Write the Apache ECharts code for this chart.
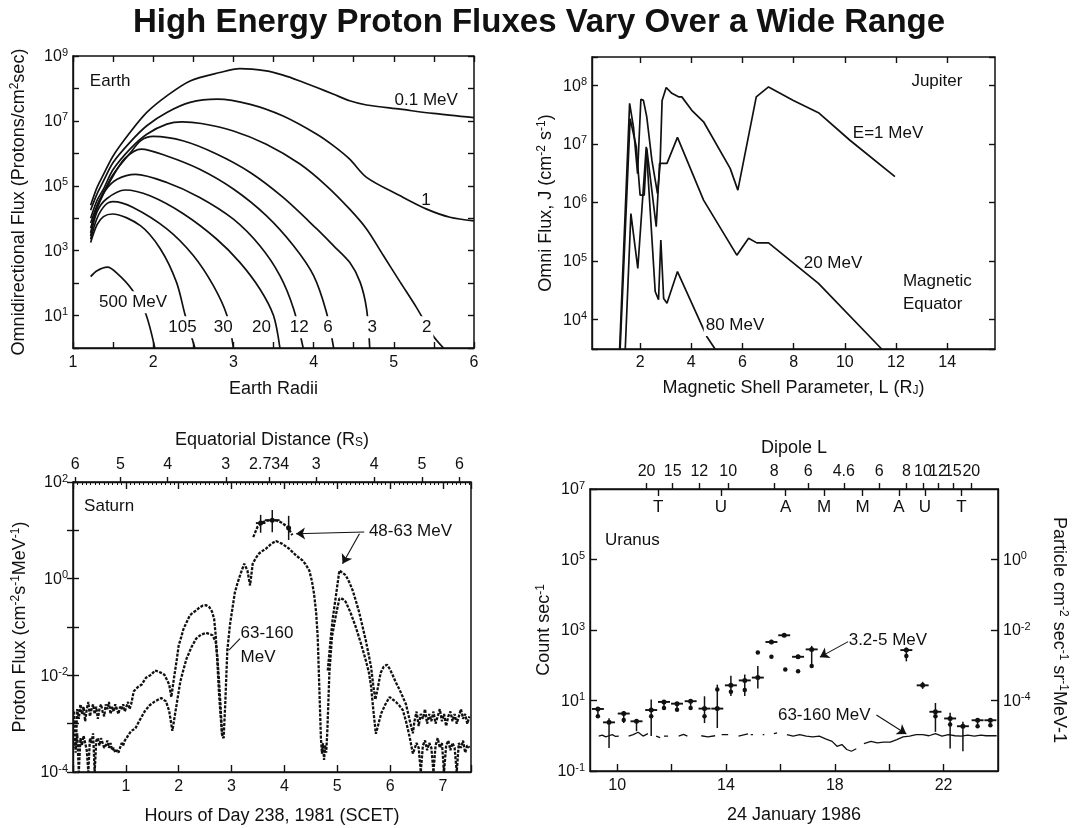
<!DOCTYPE html>
<html>
<head>
<meta charset="utf-8">
<script src="https://cdn.jsdelivr.net/npm/echarts@6/dist/echarts.min.js"></script>
<style>
  html, body { margin: 0; padding: 0; background: #fff; }
  #chart { width: 1078px; height: 828px; }
</style>
</head>
<body>
<div id="chart"></div>
<script>
// ---------------------------------------------------------------
// Earth radiation belt protons: [L (Earth radii), log10 flux]
// ---------------------------------------------------------------
const earth01MeV = [[1.22,4.4],[1.30,4.95],[1.38,5.35],[1.50,5.92],[1.71,6.64],[1.92,7.26],[2.17,7.77],[2.46,8.23],[2.83,8.49],[3.08,8.61],[3.41,8.54],[3.62,8.41],[3.83,8.23],[4.04,8.03],[4.25,7.82],[4.45,7.62],[4.66,7.49],[5.08,7.36],[5.49,7.23],[6.0,7.10]];
const earth1MeV = [[1.22,4.25],[1.30,4.75],[1.38,5.15],[1.50,5.72],[1.71,6.34],[1.92,6.85],[2.17,7.26],[2.46,7.57],[2.80,7.67],[3.21,7.51],[3.62,7.15],[4.04,6.59],[4.25,6.23],[4.45,5.82],[4.66,5.26],[5.08,4.69],[5.41,4.28],[5.70,4.03],[6.0,3.92]];
const earth2MeV = [[1.22,4.0],[1.30,4.55],[1.38,4.9],[1.50,5.5],[1.71,6.13],[1.92,6.59],[2.17,6.90],[2.36,6.97],[2.60,6.92],[3.0,6.69],[3.41,6.28],[3.83,5.67],[4.16,5.0],[4.45,4.28],[4.66,3.67],[4.87,2.85],[5.08,2.03],[5.28,1.26],[5.49,0.38],[5.62,0]];
const earth3MeV = [[1.22,3.85],[1.30,4.4],[1.38,4.8],[1.50,5.35],[1.71,6.0],[1.85,6.4],[2.0,6.52],[2.38,6.38],[2.79,5.98],[3.21,5.41],[3.62,4.64],[4.04,3.67],[4.25,3.15],[4.45,2.64],[4.58,2.03],[4.66,1.21],[4.70,0]];
const earth6MeV = [[1.22,3.7],[1.30,4.3],[1.38,4.75],[1.50,5.3],[1.65,5.85],[1.85,6.13],[2.17,5.92],[2.58,5.51],[3.0,4.90],[3.41,4.08],[3.75,3.15],[4.0,2.23],[4.16,1.10],[4.25,0]];
const earth12MeV = [[1.22,3.55],[1.30,4.35],[1.40,4.85],[1.55,5.2],[1.78,5.35],[2.17,5.10],[2.58,4.64],[3.0,3.97],[3.33,3.15],[3.58,2.23],[3.75,1.21],[3.87,0]];
const earth20MeV = [[1.22,3.45],[1.30,4.2],[1.42,4.6],[1.65,4.87],[1.96,4.69],[2.38,4.13],[2.79,3.36],[3.08,2.64],[3.33,1.82],[3.50,1.0],[3.58,0]];
const earth30MeV = [[1.22,3.35],[1.30,4.0],[1.40,4.4],[1.50,4.51],[1.75,4.33],[2.17,3.67],[2.50,2.85],[2.75,1.92],[2.92,1.0],[3.0,0]];
const earth105MeV = [[1.22,3.25],[1.30,3.8],[1.38,4.05],[1.49,4.13],[1.84,3.77],[2.09,3.05],[2.29,2.03],[2.40,1.0],[2.52,0]];
const earth500MeV = [[1.22,2.2],[1.30,2.38],[1.43,2.49],[1.55,2.3],[1.73,1.82],[1.90,1.10],[2.02,0]];

// ---------------------------------------------------------------
// Jupiter, magnetic equator: [L (R_J), log10 omni flux]
// ---------------------------------------------------------------
const jup1MeV = [[1.20,3.5],[1.59,7.69],[1.74,7.29],[1.90,6.49],[2.03,7.76],[2.13,7.74],[2.26,7.46],[2.46,6.72],[2.68,6.15],[2.78,6.64],[2.86,7.74],[3.02,7.96],[3.24,7.86],[3.50,7.80],[3.63,7.80],[4.02,7.57],[4.48,7.375],[5.52,6.58],[5.82,6.21],[6.54,7.80],[7.02,7.97],[7.99,7.74],[8.97,7.53],[10.2,7.06],[11.96,6.44]];
const jup20MeV = [[1.22,3.5],[1.61,7.43],[1.85,6.95],[2.0,6.125],[2.16,6.125],[2.26,6.92],[2.63,5.585],[2.76,6.665],[3.05,6.665],[3.46,7.11],[4.48,6.04],[5.78,5.10],[6.24,5.39],[6.56,5.31],[7.02,5.31],[8.97,4.62],[11.44,3.5]];
const jup80MeV = [[1.42,3.5],[1.64,5.81],[1.91,4.875],[2.24,6.95],[2.59,4.48],[2.72,4.34],[2.81,5.36],[2.92,4.36],[3.05,4.28],[3.46,4.82],[4.61,3.71],[4.93,3.5]];

// ---------------------------------------------------------------
// Saturn: [hour of day 238, log10 proton flux]
// ---------------------------------------------------------------
const satHi4863Inbound = [[0.02,-2.75],[0.05,-3.6],[0.08,-2.7],[0.11,-2.9],[0.14,-2.6],[0.17,-2.8],[0.20,-2.65],[0.23,-2.95],[0.26,-2.7],[0.29,-2.55],[0.32,-2.85],[0.35,-2.7],[0.38,-2.6],[0.41,-2.8],[0.44,-2.65],[0.47,-2.9],[0.50,-2.7],[0.53,-2.6],[0.56,-2.75],[0.59,-2.85],[0.62,-2.6],[0.65,-2.7],[0.68,-2.55],[0.71,-2.8],[0.74,-2.65],[0.77,-2.75],[0.80,-2.6],[0.83,-2.7],[0.86,-2.8],[0.89,-2.65],[0.92,-2.7],[0.95,-2.6],[0.98,-2.75],[1.01,-2.65],[1.04,-2.55],[1.07,-2.7],[1.10,-2.6],[1.12,-2.6],[1.15,-2.33],[1.22,-2.25],[1.30,-2.19],[1.38,-2.05],[1.48,-1.99],[1.55,-1.9],[1.61,-1.92],[1.67,-1.95],[1.73,-1.99],[1.78,-2.1],[1.82,-2.19],[1.86,-2.45],[1.91,-2.06],[1.96,-1.7],[2.0,-1.38],[2.05,-1.2],[2.09,-1.04],[2.15,-0.9],[2.21,-0.76],[2.27,-0.7],[2.33,-0.66],[2.39,-0.6],[2.45,-0.56],[2.52,-0.55],[2.58,-0.59],[2.63,-0.68],[2.67,-0.83],[2.70,-1.17],[2.73,-1.7],[2.76,-2.33],[2.79,-2.8],[2.82,-3.22],[2.85,-3.3]];
const satHi4863Closest = [[3.41,0.86],[3.49,1.07],[3.59,1.17],[3.68,1.2],[3.77,1.21],[3.86,1.2],[3.93,1.17],[4.06,1.07],[4.15,0.9]];
// [hour, log10 flux, log10 low, log10 high, half bin width (h)]
const satHi4863Bars = [[3.55,1.15,0.95,1.32,0.09],[3.77,1.21,0.96,1.42,0.14],[4.08,1.05,0.80,1.30,0.03]];
const satHi4863Outbound = [[4.82,-1.9],[4.87,-1.3],[4.91,-0.86],[4.98,-0.31],[5.04,0.17],[5.10,0.12],[5.16,0.07],[5.23,-0.08],[5.29,-0.24],[5.35,-0.45],[5.42,-0.72],[5.48,-1.0],[5.54,-1.28],[5.59,-1.55],[5.64,-1.83],[5.68,-2.2],[5.72,-2.5],[5.76,-2.3],[5.82,-1.95],[5.88,-1.82],[5.94,-1.78],[6.0,-1.88],[6.05,-2.0],[6.11,-2.15],[6.18,-2.3],[6.24,-2.45],[6.30,-2.6],[6.37,-2.93],[6.43,-3.2],[6.46,-2.95],[6.50,-2.75],[6.54,-3.05],[6.58,-2.8],[6.62,-2.9],[6.66,-2.7],[6.70,-3.0],[6.74,-2.8],[6.78,-2.95],[6.82,-2.75],[6.86,-3.0],[6.90,-2.85],[6.94,-2.7],[6.98,-2.95],[7.02,-2.8],[7.06,-3.05],[7.10,-2.85],[7.14,-2.75],[7.18,-2.95],[7.22,-2.8],[7.26,-3.0],[7.30,-2.85],[7.34,-2.7],[7.38,-2.9],[7.42,-2.8],[7.46,-3.0],[7.50,-2.85]];
const satLo63160 = [[0.02,-3.3],[0.05,-3.5],[0.08,-3.2],[0.11,-4.0],[0.14,-3.3],[0.17,-3.45],[0.20,-3.25],[0.23,-3.4],[0.26,-3.55],[0.29,-4.0],[0.32,-3.3],[0.35,-3.4],[0.38,-3.2],[0.41,-4.0],[0.44,-3.35],[0.47,-3.3],[0.50,-3.45],[0.53,-3.3],[0.56,-3.4],[0.59,-3.5],[0.62,-3.45],[0.65,-3.35],[0.68,-3.5],[0.71,-3.4],[0.74,-3.55],[0.77,-3.5],[0.80,-3.6],[0.83,-3.55],[0.86,-3.6],[0.89,-3.5],[0.92,-3.4],[0.95,-3.45],[0.98,-3.35],[1.01,-3.3],[1.04,-3.25],[1.07,-3.2],[1.10,-3.15],[1.12,-3.15],[1.18,-3.1],[1.25,-2.95],[1.36,-2.74],[1.45,-2.62],[1.55,-2.54],[1.67,-2.47],[1.76,-2.54],[1.82,-2.74],[1.88,-3.15],[1.94,-2.74],[2.03,-2.13],[2.09,-1.88],[2.15,-1.65],[2.24,-1.42],[2.33,-1.24],[2.42,-1.16],[2.52,-1.12],[2.64,-1.17],[2.70,-1.31],[2.73,-1.6],[2.76,-2.06],[2.79,-2.6],[2.82,-3.22],[2.85,-3.3],[2.88,-2.6],[2.92,-1.48],[2.97,-0.95],[3.02,-0.59],[3.06,-0.3],[3.11,-0.10],[3.17,0.1],[3.24,0.31],[3.30,0.17],[3.35,-0.14],[3.40,0.31],[3.46,0.43],[3.52,0.52],[3.58,0.57],[3.65,0.62],[3.75,0.72],[3.84,0.78],[3.96,0.72],[4.09,0.62],[4.22,0.48],[4.34,0.38],[4.40,0.3],[4.47,0.17],[4.52,-0.05],[4.56,-0.31],[4.60,-0.7],[4.63,-1.21],[4.67,-2.59],[4.69,-3.28],[4.71,-3.62],[4.73,-3.4],[4.75,-3.75],[4.77,-3.45],[4.79,-3.6],[4.81,-3.2],[4.83,-2.6],[4.85,-1.96],[4.90,-1.2],[4.95,-0.9],[4.98,-0.72],[5.04,-0.41],[5.10,-0.42],[5.16,-0.48],[5.25,-0.7],[5.35,-1.0],[5.45,-1.35],[5.54,-1.69],[5.60,-1.95],[5.64,-2.24],[5.69,-2.8],[5.73,-3.21],[5.78,-3.0],[5.83,-2.79],[5.91,-2.6],[5.99,-2.45],[6.05,-2.5],[6.11,-2.55],[6.17,-2.62],[6.24,-2.72],[6.30,-2.95],[6.37,-3.28],[6.43,-3.62],[6.46,-3.6],[6.50,-3.4],[6.54,-3.5],[6.58,-4.0],[6.62,-3.45],[6.66,-3.35],[6.70,-3.55],[6.74,-3.4],[6.78,-3.5],[6.82,-4.0],[6.86,-3.45],[6.90,-3.3],[6.94,-3.5],[6.98,-3.4],[7.02,-4.0],[7.06,-3.45],[7.10,-3.35],[7.14,-3.55],[7.18,-3.4],[7.22,-3.5],[7.26,-4.0],[7.30,-3.4],[7.34,-3.5],[7.38,-3.35],[7.42,-3.6],[7.46,-3.45],[7.50,-3.5]];
// Equatorial distance (R_S) marks along the trajectory
const satRsHours  = [0.04, 0.90, 1.79, 2.89, 3.71, 4.60, 5.70, 6.60, 7.31];
const satRsLabels = ['6', '5', '4', '3', '2.734', '3', '4', '5', '6'];

// ---------------------------------------------------------------
// Uranus, 24 January 1986: [hour, log10 count rate]
// ---------------------------------------------------------------
// [hour, log10 rate, log10 low, log10 high]
const uraHi325 = [[9.29,0.76,0.55,0.80],[9.70,0.38,-0.35,0.50],[10.24,0.63,0.36,0.70],[10.71,0.41,0.13,0.45],[11.25,0.73,-0.01,1.03],[11.72,0.96,0.74,1.0],[12.20,0.91,0.70,0.95],[12.70,0.98,0.74,1.02],[13.21,0.77,0.36,1.12],[13.68,0.77,0.22,1.45],[14.18,1.43,1.13,1.70],[14.69,1.57,1.13,1.74],[15.17,1.65,1.34,1.98],[15.67,2.66,2.60,2.72],[16.14,2.85,2.80,2.90],[16.65,2.24,2.18,2.30],[17.15,2.45,1.92,2.55],[20.63,2.43,2.11,2.50],[21.23,1.43,1.33,1.53],[21.70,0.68,0.11,0.93],[22.24,0.49,-0.36,0.65],[22.71,0.27,-0.44,0.40],[23.25,0.44,0.30,0.50],[23.72,0.44,0.30,0.50]];
const uraBinHalfWidth = 0.22;
const uraHi325Alt = [[9.29,0.55],[10.24,0.45],[11.25,0.55],[11.72,0.79],[12.20,0.74],[12.70,0.79],[13.21,0.55],[13.68,1.31],[14.18,1.25],[14.69,1.30],[15.17,2.36],[15.67,2.24],[16.18,1.88],[16.65,1.83],[17.15,1.98],[20.63,2.26],[21.70,0.55],[22.24,0.32],[23.25,0.27],[23.72,0.30]];
const uraLo63160 = [[9.32,-0.01],[9.45,0.02],[9.58,-0.03],[9.70,0.0],[9.82,0.03],[9.94,-0.02],[10.06,-0.01],null,[10.42,-0.01],[10.59,0.03],[10.77,0.10],[10.95,-0.01],[11.13,0.06],null,[11.43,-0.01],[11.58,-0.05],null,[11.72,-0.01],[11.87,-0.01],null,[12.26,-0.01],[12.44,0.04],[12.58,-0.01],null,[13.09,0.0],[13.33,-0.03],[13.60,0.0],null,[13.84,0.03],[14.08,0.03],null,[14.46,-0.01],[14.69,0.03],[14.81,0.05],null,[14.91,0.03],[14.99,0.03],null,[15.35,0.03],[15.41,0.03],null,[15.76,0.06],[15.88,0.08],null,[16.24,0.03],[16.47,-0.01],[16.71,0.03],[16.95,-0.01],[17.19,-0.03],[17.43,-0.01],[17.66,-0.09],[17.90,-0.16],[18.08,-0.30],[18.26,-0.25],[18.44,-0.39],[18.61,-0.44],[18.79,-0.37],null,[19.07,-0.22],[19.33,-0.16],[19.56,-0.20],[19.80,-0.18],[20.04,-0.18],[20.28,-0.11],[20.51,-0.03],[20.75,-0.01],[20.99,0.03],[21.23,0.03],[21.46,0.0],[21.70,0.06],[21.94,-0.01],[22.18,0.03],[22.42,0.0],[22.65,-0.01],[22.89,0.02],[23.13,-0.01],[23.37,0.02],[23.56,0.0],[23.95,0.0]];
const uraDipoleHours  = [11.08, 12.04, 13.02, 14.08, 15.77, 17.02, 18.33, 19.63, 20.63, 21.24, 21.79, 22.34, 23.02];
const uraDipoleLabels = ['20', '15', '12', '10', '8', '6', '4.6', '6', '8', '10', '12', '15', '20'];
const uraMoonHours  = [11.51, 13.81, 16.19, 17.61, 19.02, 20.36, 21.31, 22.66];
const uraMoonLabels = ['T', 'U', 'A', 'M', 'M', 'A', 'U', 'T'];

// ---------------------------------------------------------------
// styling helpers
// ---------------------------------------------------------------
const FONT = '"Liberation Sans", Arial, Helvetica, sans-serif';
const INK = '#111';
const pw = v => Math.pow(10, v);
const toPts = arr => arr.map(p => p === null ? ['-', '-'] : [p[0], pw(p[1])]);

const richTick = {
  b: { fontFamily: FONT, fontSize: 16, color: INK, verticalAlign: 'bottom' },
  s: { fontFamily: FONT, fontSize: 11, color: INK, verticalAlign: 'top', padding: [0, 0, 7, 0] }
};
const richName = {
  n: { fontFamily: FONT, fontSize: 18, color: INK, verticalAlign: 'bottom' },
  s: { fontFamily: FONT, fontSize: 12, color: INK, verticalAlign: 'top', padding: [0, 0, 7, 0] },
  d: { fontFamily: FONT, fontSize: 12, color: INK, verticalAlign: 'bottom', padding: [7, 0, 0, 0] }
};
const nameStyle = { fontFamily: FONT, fontSize: 18, color: INK, rich: richName };
const lineSty = { color: INK, width: 1.4 };

function powLabel(keep) {
  return v => {
    const e = Math.log10(v);
    const r = Math.round(e);
    if (Math.abs(e - r) > 1e-6 || !keep(r)) return '';
    return '{b|10}{s|' + r + '}';
  };
}

function logY(gi, min, max, extra) {
  return Object.assign({
    gridIndex: gi, type: 'log', logBase: 10, min: min, max: max,
    axisLine: { show: true, lineStyle: lineSty },
    axisTick: { show: true, inside: true, length: 6, lineStyle: lineSty },
    splitLine: { show: false },
    axisLabel: { show: false }
  }, extra);
}
function valX(gi, min, max, extra) {
  return Object.assign({
    gridIndex: gi, type: 'value', min: min, max: max,
    axisLine: { show: true, lineStyle: lineSty },
    axisTick: { show: true, inside: true, length: 6, lineStyle: lineSty },
    splitLine: { show: false },
    axisLabel: { show: false }
  }, extra);
}
const tickLabel = (extra) => Object.assign({ show: true, fontFamily: FONT, fontSize: 16, color: INK }, extra);

function curve(data, xi, yi, smooth, width) {
  return {
    type: 'line', xAxisIndex: xi, yAxisIndex: yi, data: toPts(data),
    showSymbol: false, smooth: smooth, silent: true, connectNulls: false,
    lineStyle: { color: INK, width: width || 1.7 }, z: 3
  };
}
function dotted(data, xi, yi) {
  return {
    type: 'line', xAxisIndex: xi, yAxisIndex: yi, data: toPts(data),
    showSymbol: false, silent: true,
    lineStyle: { color: INK, width: 2.3, type: [3, 1.4] }, z: 3
  };
}
function errorBars(data, xi, yi, halfW) {
  return {
    type: 'custom', xAxisIndex: xi, yAxisIndex: yi, silent: true, z: 4,
    data: data.map(d => [d[0], pw(d[1]), pw(d[2]), pw(d[3]), d[4] != null ? d[4] : halfW]),
    encode: { x: 0, y: 1 },
    renderItem: (params, api) => {
      const x = api.value(0), y = api.value(1), lo = api.value(2), hi = api.value(3), hw = api.value(4);
      const c = api.coord([x, y]);
      const l = api.coord([x - hw, y]);
      const r = api.coord([x + hw, y]);
      const t = api.coord([x, hi]);
      const b = api.coord([x, lo]);
      return {
        type: 'group',
        children: [
          { type: 'line', shape: { x1: l[0], y1: c[1], x2: r[0], y2: c[1] }, style: { stroke: INK, lineWidth: 1.9 } },
          { type: 'line', shape: { x1: c[0], y1: t[1], x2: c[0], y2: b[1] }, style: { stroke: INK, lineWidth: 1.5 } },
          { type: 'circle', shape: { cx: c[0], cy: c[1], r: 2.5 }, style: { fill: INK } }
        ]
      };
    }
  };
}
// text notes placed in data coordinates; arrows as mark lines
function notes(xi, yi, items, arrows) {
  const s = {
    type: 'scatter', xAxisIndex: xi, yAxisIndex: yi, symbolSize: 0, silent: true, z: 6,
    itemStyle: { opacity: 1 },
    data: items.map(it => ({
      value: [it.x, pw(it.y)],
      label: {
        show: true, formatter: it.text, position: [0, 0],
        align: it.align || 'left', verticalAlign: 'middle',
        fontFamily: FONT, fontSize: it.size || 17, color: INK, opacity: 1,
        lineHeight: it.lh || 20,
        backgroundColor: it.mask ? '#fff' : 'transparent',
        padding: it.mask ? [1, 2] : 0
      }
    }))
  };
  if (arrows) {
    s.markLine = {
      silent: true, animation: false, symbolSize: 9,
      lineStyle: { color: INK, width: 1.1, type: 'solid', opacity: 1 },
      label: { show: false },
      emphasis: { disabled: true },
      data: arrows.map(a => [
        { coord: [a[0], pw(a[1])], symbol: 'none' },
        { coord: [a[2], pw(a[3])], symbol: a[4] ? 'arrow' : 'none' }
      ])
    };
  }
  return s;
}

// ---------------------------------------------------------------
const chart = echarts.init(document.getElementById('chart'), null, { renderer: 'canvas', width: 1078, height: 828 });

const frame = { show: true, borderColor: INK, borderWidth: 1.5, backgroundColor: 'transparent' };

const option = {
  animation: false,
  backgroundColor: '#fff',
  title: {
    text: 'High Energy Proton Fluxes Vary Over a Wide Range',
    left: 'center', top: 1,
    textStyle: { fontFamily: FONT, fontSize: 33, fontWeight: 'bold', color: INK }
  },
  grid: [
    Object.assign({ left: 73, top: 56, width: 401, height: 292 }, frame),
    Object.assign({ left: 592, top: 57, width: 403, height: 292 }, frame),
    Object.assign({ left: 73, top: 482, width: 398, height: 290 }, frame),
    Object.assign({ left: 590, top: 489, width: 408, height: 282 }, frame)
  ],
  xAxis: [
    // 0: Earth bottom
    valX(0, 1, 6, {
      interval: 0.5,
      axisLabel: tickLabel({ margin: 7, formatter: v => Number.isInteger(v) ? String(v) : '' }),
      name: '{n|Earth Radii}', nameLocation: 'middle', nameGap: 32, nameTextStyle: nameStyle
    }),
    // 1: Earth top ticks
    valX(0, 1, 6, { position: 'top', interval: 0.5, axisLine: { show: false } }),
    // 2: Jupiter bottom
    valX(1, 0.12, 15.87, {
      axisTick: { show: true, inside: true, length: 6, lineStyle: lineSty, customValues: [2, 4, 6, 8, 10, 12, 14] },
      axisLabel: tickLabel({ margin: 6, customValues: [2, 4, 6, 8, 10, 12, 14] }),
      name: '{n|Magnetic Shell Parameter, L (R}{d|J}{n|)}', nameLocation: 'middle', nameGap: 29, nameTextStyle: nameStyle
    }),
    // 3: Jupiter top ticks
    valX(1, 0.12, 15.87, {
      position: 'top', axisLine: { show: false },
      axisTick: { show: true, inside: true, length: 6, lineStyle: lineSty, customValues: [2, 4, 6, 8, 10, 12, 14] }
    }),
    // 4: Saturn bottom (hours)
    valX(2, 0, 7.53, {
      interval: 1,
      axisTick: { show: true, inside: true, length: 7, lineStyle: lineSty },
      axisLabel: tickLabel({ margin: 7, formatter: v => (v >= 1 && Number.isInteger(v)) ? String(v) : '' }),
      name: '{n|Hours of Day 238, 1981 (SCET)}', nameLocation: 'middle', nameGap: 35, nameTextStyle: nameStyle
    }),
    // 5: Saturn top (equatorial distance)
    valX(2, 0, 7.53, {
      position: 'top',
      axisTick: { show: true, inside: false, length: 5, lineStyle: lineSty, customValues: satRsHours },
      axisLabel: tickLabel({
        margin: 9, customValues: satRsHours,
        formatter: v => { const i = satRsHours.findIndex(h => Math.abs(h - v) < 1e-6); return i >= 0 ? satRsLabels[i] : ''; }
      }),
      name: '{n|Equatorial Distance (R}{d|S}{n|)}', nameLocation: 'middle', nameGap: 33, nameTextStyle: nameStyle
    }),
    // 6: Saturn top fine ruler
    valX(2, 0, 7.53, {
      position: 'top', interval: 1 / 12, axisLine: { show: false },
      axisTick: { show: true, inside: true, length: 3, lineStyle: { color: INK, width: 1 } }
    }),
    // 7: Saturn top hour ticks
    valX(2, 0, 7.53, {
      position: 'top', interval: 1, axisLine: { show: false },
      axisTick: { show: true, inside: true, length: 7, lineStyle: lineSty }
    }),
    // 8: Uranus bottom
    valX(3, 9, 24, {
      axisTick: { show: true, inside: true, length: 7, lineStyle: lineSty, customValues: [10, 12, 14, 16, 18, 20, 22] },
      axisLabel: tickLabel({ margin: 7, customValues: [10, 14, 18, 22] }),
      name: '{n|24 January 1986}', nameLocation: 'middle', nameGap: 35, nameTextStyle: nameStyle
    }),
    // 9: Uranus top (dipole L)
    valX(3, 9, 24, {
      position: 'top',
      axisTick: { show: true, inside: false, length: 6, lineStyle: lineSty, customValues: uraDipoleHours },
      axisLabel: tickLabel({
        margin: 9, customValues: uraDipoleHours,
        formatter: v => { const i = uraDipoleHours.findIndex(h => Math.abs(h - v) < 1e-6); return i >= 0 ? uraDipoleLabels[i] : ''; }
      }),
      name: '{n|Dipole L}', nameLocation: 'middle', nameGap: 32, nameTextStyle: nameStyle
    }),
    // 10: Uranus satellite orbit marks
    valX(3, 9, 24, {
      position: 'top', axisLine: { show: false },
      axisTick: { show: true, inside: true, length: 7, lineStyle: lineSty, customValues: uraMoonHours },
      axisLabel: tickLabel({
        inside: true, margin: 10, fontSize: 17, customValues: uraMoonHours,
        formatter: v => { const i = uraMoonHours.findIndex(h => Math.abs(h - v) < 1e-6); return i >= 0 ? uraMoonLabels[i] : ''; }
      })
    })
  ],
  yAxis: [
    // 0: Earth left
    logY(0, 1, 1e9, {
      axisLabel: tickLabel({ margin: 5, rich: richTick, formatter: powLabel(e => e % 2 === 1) }),
      name: '{n|Omnidirectional Flux (Protons/cm}{s|2}{n|sec)}', nameLocation: 'middle', nameGap: 45, nameTextStyle: nameStyle
    }),
    // 1: Earth right ticks
    logY(0, 1, 1e9, { position: 'right', axisLine: { show: false } }),
    // 2: Jupiter left
    logY(1, pw(3.5), pw(8.48), {
      axisLabel: tickLabel({ margin: 5, rich: richTick, formatter: powLabel(e => true) }),
      name: '{n|Omni Flux, J (cm}{s|-2}{n| s}{s|-1}{n|)}', nameLocation: 'middle', nameGap: 37, nameTextStyle: nameStyle
    }),
    // 3: Jupiter right ticks
    logY(1, pw(3.5), pw(8.48), { position: 'right', axisLine: { show: false } }),
    // 4: Saturn left
    logY(2, 1e-4, 1e2, {
      axisLabel: tickLabel({ margin: 5, rich: richTick, formatter: powLabel(e => e % 2 === 0) }),
      name: '{n|Proton Flux (cm}{s|-2}{n|s}{s|-1}{n|MeV}{s|-1}{n|)}', nameLocation: 'middle', nameGap: 44, nameTextStyle: nameStyle
    }),
    // 5: Saturn right ticks
    logY(2, 1e-4, 1e2, { position: 'right', axisLine: { show: false } }),
    // 6: Uranus left (count rate)
    logY(3, 0.1, 1e7, {
      axisTick: { show: true, inside: true, length: 7, lineStyle: lineSty, customValues: [0.1, 10, 1e3, 1e5, 1e7] },
      axisLabel: tickLabel({ margin: 5, rich: richTick, customValues: [0.1, 10, 1e3, 1e5, 1e7], formatter: powLabel(e => true) }),
      name: '{n|Count sec}{s|-1}', nameLocation: 'middle', nameGap: 28, nameTextStyle: nameStyle
    }),
    // 7: Uranus right (particle flux)
    logY(3, 1e-6, 1e2, {
      position: 'right',
      axisTick: { show: true, inside: true, length: 7, lineStyle: lineSty, customValues: [1e-4, 1e-2, 1] },
      axisLabel: tickLabel({ margin: 5, rich: richTick, customValues: [1e-4, 1e-2, 1], formatter: powLabel(e => true) }),
      name: '{n|Particle cm}{s|-2}{n| sec}{s|-1}{n| sr}{s|-1}{n|MeV-1}', nameLocation: 'middle', nameGap: 52, nameRotate: -90, nameTextStyle: nameStyle
    })
  ],
  series: [
    // Earth
    curve(earth01MeV, 0, 0, 0.3), curve(earth1MeV, 0, 0, 0.3), curve(earth2MeV, 0, 0, 0.3),
    curve(earth3MeV, 0, 0, 0.3), curve(earth6MeV, 0, 0, 0.3), curve(earth12MeV, 0, 0, 0.3),
    curve(earth20MeV, 0, 0, 0.3), curve(earth30MeV, 0, 0, 0.3), curve(earth105MeV, 0, 0, 0.3),
    curve(earth500MeV, 0, 0, 0.3),
    notes(0, 0, [
      { x: 1.21, y: 8.22, text: 'Earth' },
      { x: 5.01, y: 7.62, text: '0.1 MeV' },
      { x: 5.40, y: 4.55, text: '1', align: 'center' },
      { x: 1.30, y: 1.41, text: '500 MeV', mask: true },
      { x: 2.365, y: 0.64, text: '105', align: 'center', mask: true },
      { x: 2.874, y: 0.64, text: '30', align: 'center', mask: true },
      { x: 3.35, y: 0.64, text: '20', align: 'center', mask: true },
      { x: 3.82, y: 0.64, text: '12', align: 'center', mask: true },
      { x: 4.18, y: 0.64, text: '6', align: 'center', mask: true },
      { x: 4.73, y: 0.64, text: '3', align: 'center', mask: true },
      { x: 5.41, y: 0.64, text: '2', align: 'center', mask: true }
    ]),
    // Jupiter
    curve(jup1MeV, 2, 2, false), curve(jup20MeV, 2, 2, false), curve(jup80MeV, 2, 2, false),
    notes(2, 2, [
      { x: 13.6, y: 8.06, text: 'Jupiter', align: 'center' },
      { x: 11.69, y: 7.18, text: 'E=1 MeV', align: 'center' },
      { x: 9.54, y: 4.96, text: '20 MeV', align: 'center' },
      { x: 5.71, y: 3.91, text: '80 MeV', align: 'center', mask: true },
      { x: 12.27, y: 4.46, text: 'Magnetic\nEquator', lh: 23 }
    ]),
    // Saturn
    dotted(satHi4863Inbound, 4, 4), dotted(satHi4863Closest, 4, 4), dotted(satHi4863Outbound, 4, 4),
    dotted(satLo63160, 4, 4),
    errorBars(satHi4863Bars, 4, 4, 0.1),
    notes(4, 4, [
      { x: 0.21, y: 1.50, text: 'Saturn' },
      { x: 5.56, y: 0.99, text: '48-63 MeV', mask: true },
      { x: 3.17, y: -1.38, text: '63-160\nMeV', lh: 24 }
    ], [
      [5.51, 0.965, 4.22, 0.93, true],
      [5.42, 0.93, 5.10, 0.31, true],
      [3.16, -1.24, 2.95, -1.48, false]
    ]),
    // Uranus
    {
      type: 'line', xAxisIndex: 8, yAxisIndex: 6, data: toPts(uraLo63160),
      showSymbol: false, silent: true, connectNulls: false,
      lineStyle: { color: INK, width: 1.3 }, z: 3
    },
    errorBars(uraHi325.map(d => [d[0], d[1], d[2], d[3], uraBinHalfWidth]), 8, 6, uraBinHalfWidth),
    {
      type: 'scatter', xAxisIndex: 8, yAxisIndex: 6, data: toPts(uraHi325Alt),
      symbol: 'circle', symbolSize: 4.5, silent: true, itemStyle: { color: INK, opacity: 1 }, z: 4
    },
    notes(8, 6, [
      { x: 9.55, y: 5.54, text: 'Uranus' },
      { x: 18.51, y: 2.72, text: '3.2-5 MeV' },
      { x: 15.91, y: 0.59, text: '63-160 MeV' }
    ], [
      [18.49, 2.67, 17.45, 2.23, true],
      [19.53, 0.59, 20.63, 0.05, true]
    ])
  ]
};

chart.setOption(option);
</script>
</body>
</html>
